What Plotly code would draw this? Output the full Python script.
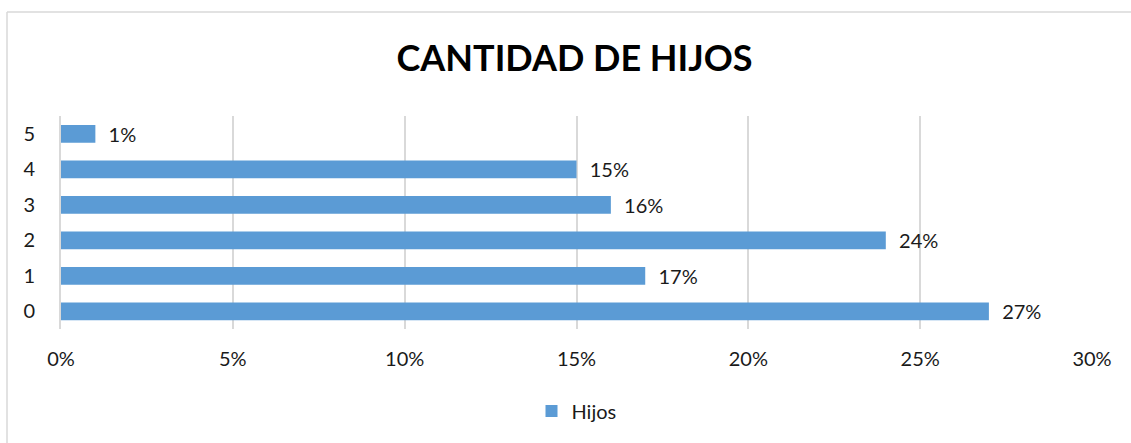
import plotly.graph_objects as go

categories = ["0", "1", "2", "3", "4", "5"]
values = [0.27, 0.17, 0.24, 0.16, 0.15, 0.01]
series_name = "Hijos"
title_text = "CANTIDAD DE HIJOS"
x_tickvals = [0, 0.05, 0.10, 0.15, 0.20, 0.25, 0.30]

FONT = "Lato, Calibri, 'Open Sans', sans-serif"

fig = go.Figure()
fig.add_trace(go.Bar(
    y=categories, x=values, orientation="h", name=series_name,
    marker=dict(color="#5B9BD5", line=dict(width=0)),
    width=0.5,
    text=values, texttemplate="\u00a0\u00a0%{x:.0%}",
    textposition="outside", cliponaxis=False, constraintext="none",
    textfont=dict(size=20, color="#1a1a1a", family=FONT),
    showlegend=True,
))

fig.update_layout(
    width=1131, height=443,
    margin=dict(l=61, r=39, t=116, b=114),
    paper_bgcolor="white", plot_bgcolor="white",
    title=dict(text="<b>" + title_text + "</b>", x=0.508, xanchor="center",
               y=1 - 58 / 443, yanchor="middle", yref="container",
               font=dict(size=36, color="black", family=FONT)),
    xaxis=dict(range=[0, 0.30], tickvals=x_tickvals, tickformat=".0%",
               showgrid=True, gridcolor="#d9d9d9", gridwidth=1.5,
               zeroline=False, showline=False,
               ticks="outside", ticklen=12, tickcolor="rgba(0,0,0,0)",
               tickfont=dict(size=20, color="#1a1a1a", family=FONT)),
    yaxis=dict(type="category", categoryorder="array", categoryarray=categories,
               range=[-0.5, 5.5], showgrid=False, zeroline=False,
               showline=True, linecolor="#d9d9d9", linewidth=2,
               ticks="outside", ticklen=20, tickcolor="rgba(0,0,0,0)",
               tickfont=dict(size=20, color="#1a1a1a", family=FONT)),
    legend=dict(orientation="h", x=0.5, xanchor="center", y=-0.385, yanchor="middle",
                font=dict(size=20, color="#1a1a1a", family=FONT),
                itemwidth=30),
    showlegend=True,
    shapes=[
        dict(type="line", xref="paper", yref="paper",
             x0=-54/1031, x1=1131/1031, y0=1 + (116-12)/213, y1=1 + (116-12)/213,
             line=dict(color="#d9d9d9", width=1.5)),
        dict(type="line", xref="paper", yref="paper",
             x0=-54/1031, x1=-54/1031, y0=1 + (116-12)/213, y1=-114/213 - 0.01,
             line=dict(color="#d9d9d9", width=1.5)),
    ],
)

fig.write_html("out.html", config={"displayModeBar": False},
               post_script="document.body.style.margin='0';")
